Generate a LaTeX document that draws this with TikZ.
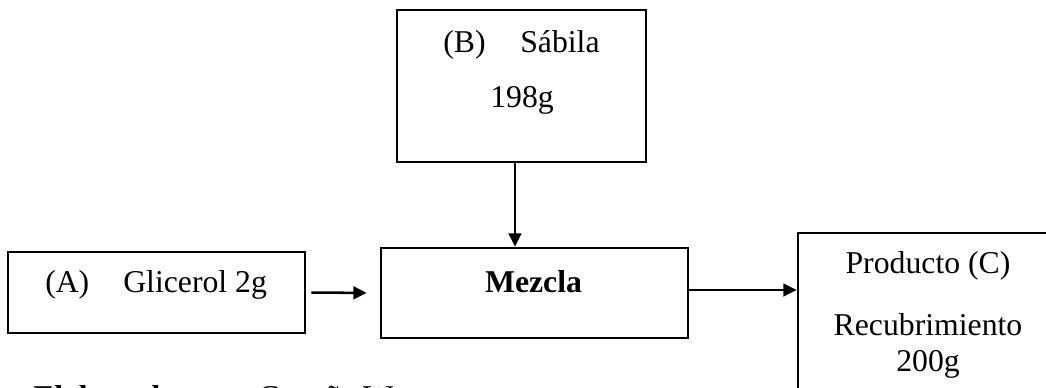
\documentclass[tikz,border=0pt]{standalone}
\usepackage{fontspec}
\setmainfont{Liberation Serif}
\usetikzlibrary{arrows.meta}
\begin{document}
\begin{tikzpicture}[x=0.75pt,y=-0.75pt,
 box/.style={draw, line width=2pt, rectangle, inner sep=0pt},
 txt/.style={inner sep=0pt, font=\fontsize{23.8}{28}\selectfont},
 conn/.style={line width=1.9pt, -{Triangle[length=10pt,width=9.5pt]}}]
\useasboundingbox (0,0) rectangle (1046,387);
\clip (0,0) rectangle (1046,387);
% boxes
\node[box, minimum width=297*0.75pt, minimum height=81*0.75pt] (A) at (156.5,292.5) {};
\node[box, minimum width=249*0.75pt, minimum height=152*0.75pt] (B) at (521.5,86) {};
\node[box, minimum width=307*0.75pt, minimum height=90*0.75pt] (M) at (534.5,293) {};
\node[box, minimum width=260*0.75pt, minimum height=187*0.75pt] (C) at (928,326.5) {};
% texts
\node[txt, anchor=base west] (Alab) at (45,292) {(A)};
\node[txt, anchor=base west] (Atxt) at (123,292) {Glicerol 2g};
\node[txt, anchor=base west] (Blab) at (443,52) {(B)};
\node[txt, anchor=base west] (Btxt) at (520,52) {Sábila};
\node[txt, anchor=base west] (Bmass) at (490,107) {198g};
\node[txt, anchor=base] (Mtxt) at (533.5,292) {\textbf{Mezcla}};
\node[txt, anchor=base] (C1) at (928,273) {Producto (C)};
\node[txt, anchor=base] (C2) at (928,335) {Recubrimiento};
\node[txt, anchor=base] (C3) at (928,371) {200g};
\node[txt, anchor=base west] (F1) at (33,407) {\textbf{Elaborado por:}};
\node[txt, anchor=base west] (F2) at (258,407) {Caguña W};
% connectors
\draw[conn, shorten <=3.75pt, shorten >=9.75pt] (A.east) -- (M.west);
\draw[conn] ([xshift=-4.9pt]B.south) -- ([xshift=-4.9pt]B.south |- M.north);
\draw[conn] ([yshift=2.25pt]M.east) -- ([yshift=2.25pt]M.east -| C.west);
\end{tikzpicture}
\end{document}
